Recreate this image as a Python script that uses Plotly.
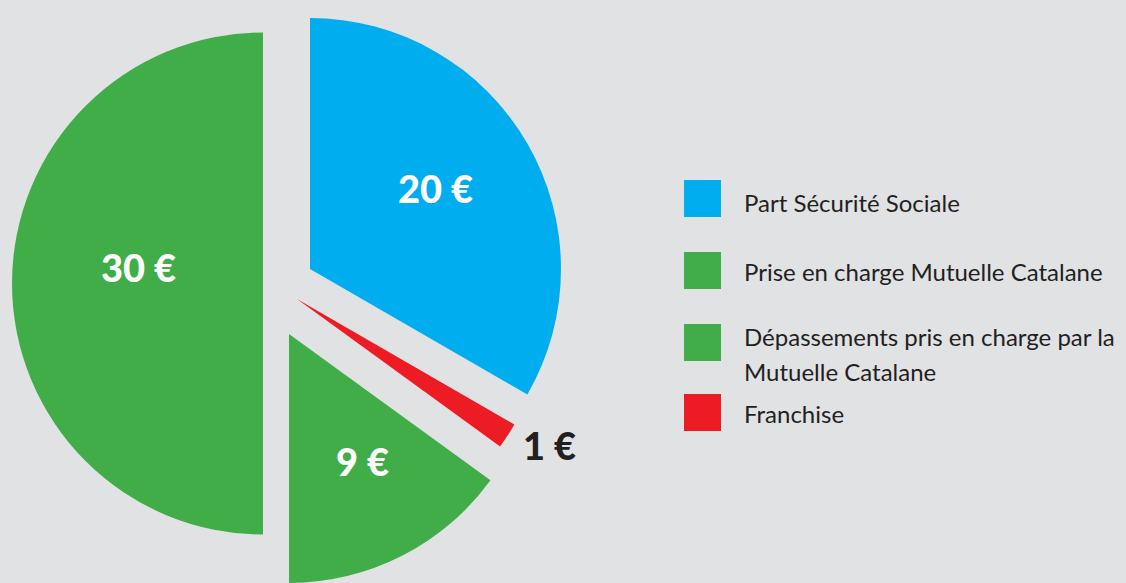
import plotly.graph_objects as go

# ---- data ----
labels = ["Part Sécurité Sociale", "Franchise",
          "Prise en charge Mutuelle Catalane",
          "Dépassements pris en charge par la Mutuelle Catalane"]
values = [20, 1, 9, 30]
value_labels = ["20 €", "1 €", "9 €", "30 €"]
slice_colors = ["#00AEEF", "#ED1C24", "#41AD49", "#41AD49"]

legend_labels = ["Part Sécurité Sociale",
                 "Prise en charge Mutuelle Catalane",
                 "Dépassements pris en charge par la<br>Mutuelle Catalane",
                 "Franchise"]
legend_colors = ["#00AEEF", "#41AD49", "#41AD49", "#ED1C24"]

# ---- layout constants (pixels) ----
W, H = 1126, 583
BG = "#E1E2E4"
TXT = "#231F20"
# each slice drawn as its own exploded pie (center x, center y, radius)
slice_geom = [(310, 269, 251), (297, 299, 251), (289, 334, 249), (263, 283.5, 251)]
# value-label offsets from each slice centre (pixels)
label_offsets = [(125, -81), (252, 146), (73, 127), (-125, -16)]
label_colors = ["white", TXT, "white", "white"]

fig = go.Figure()
for i, (cx, cy, r) in enumerate(slice_geom):
    colors = [slice_colors[j] if j == i else "rgba(0,0,0,0)" for j in range(len(values))]
    fig.add_trace(go.Pie(
        labels=labels, values=values, sort=False, direction="clockwise", rotation=0,
        marker=dict(colors=colors, line=dict(width=0)),
        textinfo="none", showlegend=False, hoverinfo="label+value",
        domain=dict(x=[(cx - r) / W, (cx + r) / W],
                    y=[max(0, 1 - (cy + r) / H), min(1, 1 - (cy - r) / H)]),
    ))
    dx, dy = label_offsets[i]
    fig.add_annotation(x=(cx + dx) / W, y=1 - (cy + dy) / H, xref="paper", yref="paper",
                       text=value_labels[i], showarrow=False,
                       xanchor="center", yanchor="middle",
                       font=dict(family="Lato", size=38, color=label_colors[i], weight=900))

# ---- custom legend ----
sq_x0, sq_x1 = 684, 721
sq_tops = [180, 252, 324, 394]
line_centers = [[203], [271], [336, 371], [413]]
for lab, col, top, centers in zip(legend_labels, legend_colors, sq_tops, line_centers):
    fig.add_shape(type="rect", xref="paper", yref="paper",
                  x0=sq_x0 / W, x1=sq_x1 / W, y0=1 - top / H, y1=1 - (top + 37) / H,
                  fillcolor=col, line=dict(width=0))
    for part, yc in zip(lab.split("<br>"), centers):
        fig.add_annotation(x=742 / W, y=1 - yc / H, xref="paper", yref="paper",
                           text=part, showarrow=False, xanchor="left", yanchor="middle",
                           font=dict(family="Lato", size=24, color=TXT))

fig.update_layout(width=W, height=H, margin=dict(l=0, r=0, t=0, b=0),
                  paper_bgcolor=BG, plot_bgcolor=BG)
fig.write_html("out.html", config={"displayModeBar": False},
               post_script="document.body.style.margin='0';"
                           "document.body.style.background='%s';" % BG)
